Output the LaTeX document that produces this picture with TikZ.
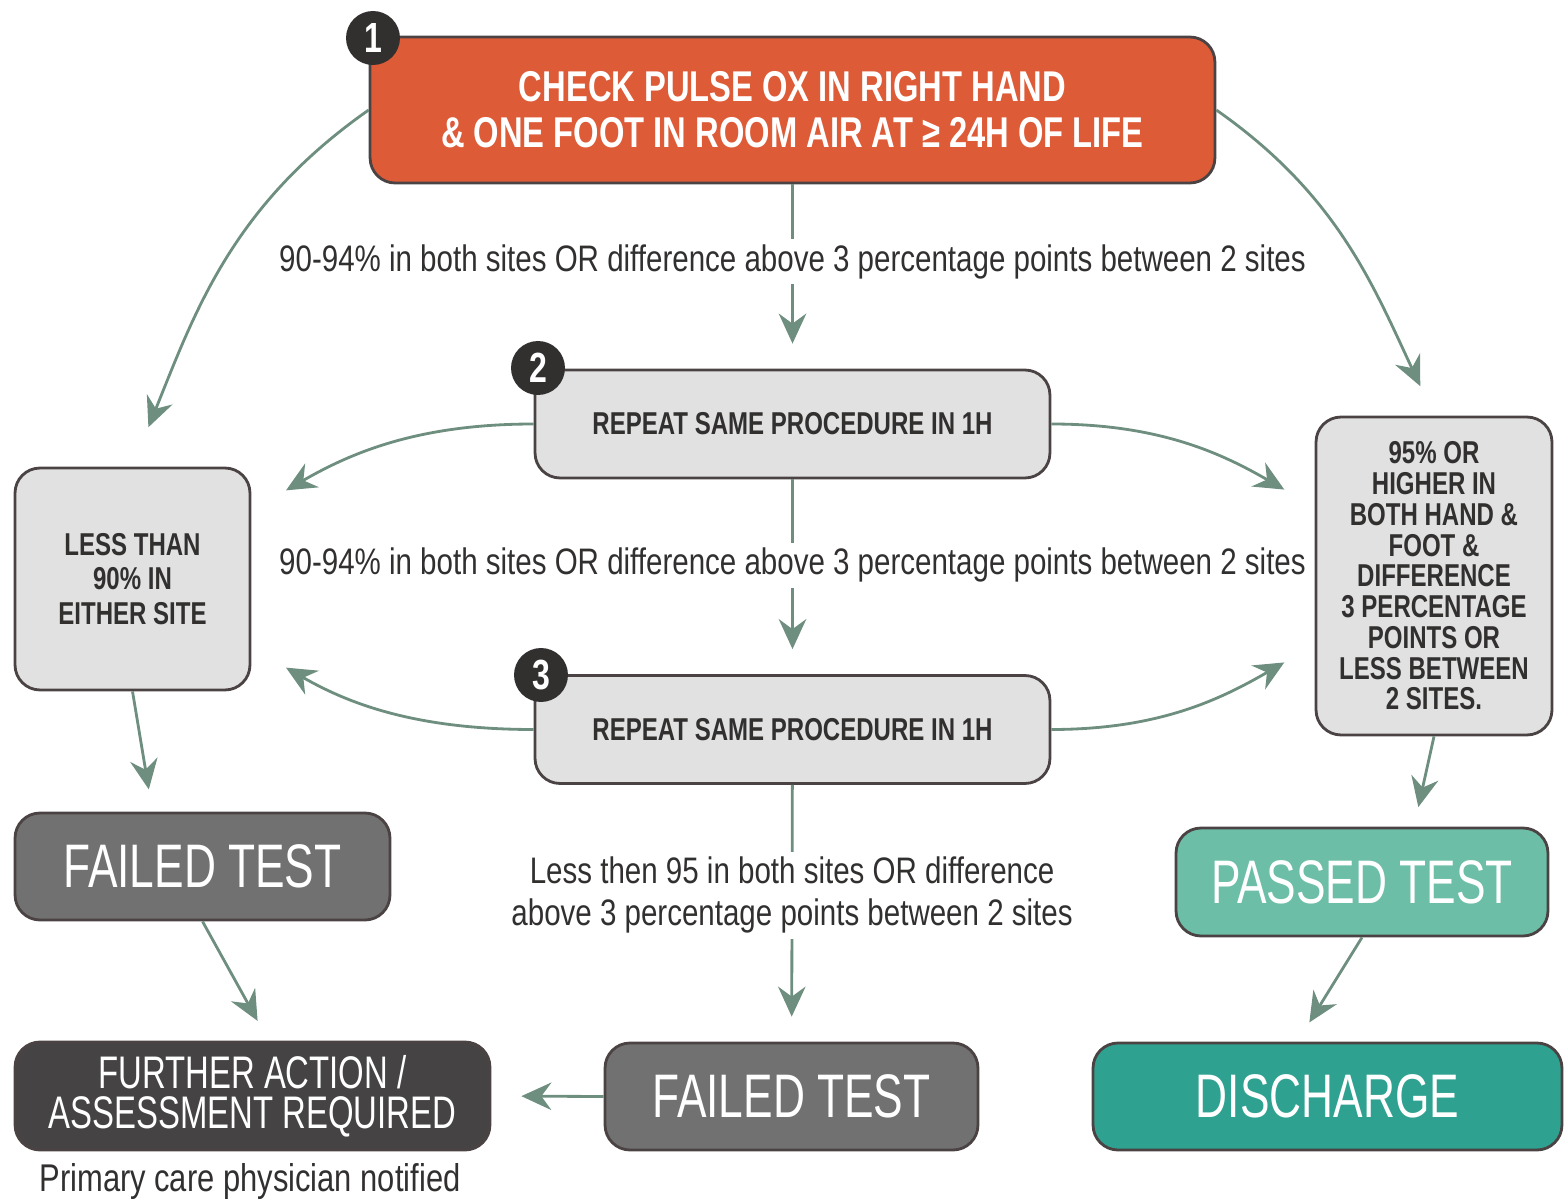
\documentclass[tikz,border=0pt]{standalone}
\usepackage{fontspec}
\newfontfamily\cond[FakeStretch=0.8]{Liberation Sans}
\newfontfamily\condb[FakeStretch=0.76]{Liberation Sans}
\newfontfamily\condn[FakeStretch=0.72]{Liberation Sans}
\usetikzlibrary{calc}
\usetikzlibrary{arrows.meta}
\definecolor{chkorange}{RGB}{222,91,56}
\definecolor{boxgray}{RGB}{225,225,225}
\definecolor{edge}{RGB}{75,67,67}
\definecolor{failgray}{RGB}{113,113,113}
\definecolor{darkgray}{RGB}{69,67,67}
\definecolor{passgreen}{RGB}{108,190,167}
\definecolor{dischgreen}{RGB}{47,161,144}
\definecolor{link}{RGB}{110,142,127}
\definecolor{txt}{RGB}{50,47,47}

\begin{document}
\begin{tikzpicture}[x=0.02cm,y=-0.02cm] %% tikz, pixel units
	\tikzstyle{box}=[draw=edge,line width=1.6pt,rounded corners=0.5cm,align=center,inner sep=0pt];
	\tikzstyle{grey}=[box,fill=boxgray,text=txt,font=\condb\bfseries\fontsize{18}{17.5}\selectfont];
	\tikzstyle{big}=[box,text=white,font=\condn\fontsize{35}{40}\selectfont];
	\tikzstyle{num}=[circle,fill=txt,text=white,minimum size=1.08cm,inner sep=0pt,font=\condb\bfseries\fontsize{24}{24}\selectfont];
	\tikzstyle{lbl}=[fill=white,text=txt,align=center,inner sep=3pt,font=\cond\fontsize{21}{24}\selectfont];
	\tikzstyle{go}=[draw=link,line width=1.6pt,-{Stealth[length=0.6cm,width=0.55cm,inset=0.2cm]}];
	\useasboundingbox (0,0) rectangle (1566,1199);
	%% boxes
	\node[box,fill=chkorange,text=white,minimum width=16.9cm,minimum height=2.92cm,
		font=\condb\bfseries\fontsize{24.5}{26}\selectfont] (chk) at (792.5,110)
		{CHECK PULSE OX IN RIGHT HAND\\\& ONE FOOT IN ROOM AIR AT ≥ 24H OF LIFE};
	\node[grey,minimum width=10.3cm,minimum height=2.16cm] (rep1) at (792.5,424) {REPEAT SAME PROCEDURE IN 1H};
	\node[grey,minimum width=10.3cm,minimum height=2.16cm] (rep2) at (792.5,729.5) {REPEAT SAME PROCEDURE IN 1H};
	\node[grey,minimum width=4.7cm,minimum height=4.44cm,font=\condb\bfseries\fontsize{18}{19.5}\selectfont] (low) at (132.5,579)
		{LESS THAN\\90\% IN\\EITHER SITE};
	\node[grey,minimum width=4.72cm,minimum height=6.36cm] (high) at (1434,576)
		{95\% OR\\HIGHER IN\\BOTH HAND \&\\FOOT \&\\DIFFERENCE\\3 PERCENTAGE\\POINTS OR\\LESS BETWEEN\\2 SITES.};
	\node[big,fill=failgray,minimum width=7.5cm,minimum height=2.14cm] (failA) at (202.5,866.5) {FAILED TEST};
	\node[big,fill=darkgray,minimum width=9.5cm,minimum height=2.16cm,font=\condn\fontsize{26}{23}\selectfont] (further) at (252.5,1096)
		{FURTHER ACTION /\\ASSESSMENT REQUIRED};
	\node[big,fill=failgray,minimum width=7.46cm,minimum height=2.14cm] (failB) at (791.5,1096.5) {FAILED TEST};
	\node[big,fill=passgreen,minimum width=7.44cm,minimum height=2.16cm] (pass) at (1362,882) {PASSED TEST};
	\node[big,fill=dischgreen,minimum width=9.38cm,minimum height=2.14cm] (disch) at (1327.5,1096.5) {DISCHARGE};
	\node[text=txt,font=\cond\fontsize{22}{24}\selectfont] (note) at (250,1181) {Primary care physician notified};
	%% numbers
	\node[num] (n1) at (373,38) {1};
	\node[num] (n2) at (538,368) {2};
	\node[num] (n3) at (541,675) {3};
	%% straight down the middle
	\draw[go,shorten >=0.5cm] (chk) -- node[lbl,pos=0.42]{90-94\% in both sites OR difference above 3 percentage points between 2 sites} (rep1);
	\draw[go,shorten >=0.5cm] (rep1) -- node[lbl,pos=0.44]{90-94\% in both sites OR difference above 3 percentage points between 2 sites} (rep2);
	\draw[go,shorten >=0.5cm] (rep2) -- node[lbl,pos=0.43]{Less then 95 in both sites OR difference\\above 3 percentage points between 2 sites} (failB);
	%% curved branches
	\draw[go,shorten >=0.85cm] (chk.west) to[out=215,in=68] (low.north);
	\draw[go,shorten >=0.65cm] (chk.east) to[out=-35,in=115] (high.north);
	\draw[go,shorten >=0.8cm] (rep1.west) to[out=180,in=30] (low.30);
	\draw[go,shorten >=0.7cm] (rep1.east) to[out=0,in=150] (high.150);
	\draw[go,shorten >=0.8cm] (rep2.west) to[out=180,in=-30] (low.-30);
	\draw[go,shorten >=0.7cm] (rep2.east) to[out=0,in=210] (high.210);
	%% results
	\draw[go,shorten >=0.45cm] (low.south) -- ($(failA.north)+(-50,0)$);
	\draw[go,shorten >=0.4cm] (high.south) -- ($(pass.north)+(52,0)$);
	\draw[go,shorten >=0.45cm] (failA.south) -- ($(further.north)+(16,0)$);
	\draw[go,shorten >=0.45cm] (pass.south) -- ($(disch.north)+(-30,0)$);
	\draw[go,shorten >=0.6cm] (failB.west) -- (further.east);
\end{tikzpicture}
\end{document}
